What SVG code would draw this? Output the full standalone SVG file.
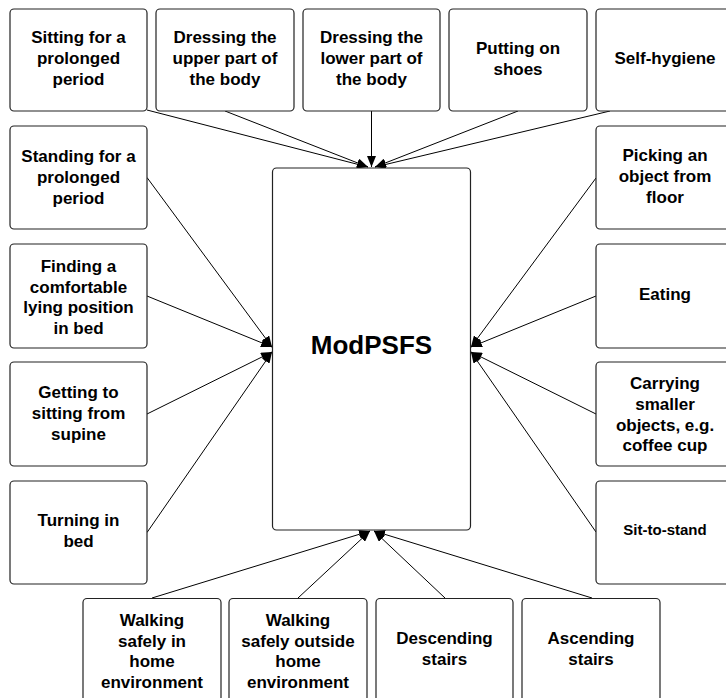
<svg xmlns="http://www.w3.org/2000/svg" width="726" height="698" viewBox="0 0 726 698">
<style>
.box{fill:#fff;stroke:#222;stroke-width:1.2}
.t{font-family:"Liberation Sans",Arial,sans-serif;font-weight:bold;font-size:17px;fill:#000;text-anchor:middle}
.s{font-size:15px}
.big{font-size:26px}
.c{stroke:#000;stroke-width:1;fill:none;marker-end:url(#ah)}
</style>
<defs>
<marker id="ah" markerUnits="userSpaceOnUse" markerWidth="11" markerHeight="9" refX="11" refY="4.5" orient="auto" viewBox="0 0 11 9">
<path d="M0,0 L11,4.5 L0,9 z" fill="#000"/>
</marker>
</defs>
<rect width="726" height="698" fill="#fff"/>
<g id="connectors">
<line class="c" x1="147" y1="110" x2="368" y2="167"/>
<line class="c" x1="225" y1="111" x2="368" y2="167"/>
<line class="c" x1="371.5" y1="111" x2="371.5" y2="167"/>
<line class="c" x1="518" y1="111" x2="375" y2="167"/>
<line class="c" x1="610" y1="111" x2="375" y2="167"/>
<line class="c" x1="147" y1="177.5" x2="272" y2="347"/>
<line class="c" x1="147" y1="296" x2="272" y2="347"/>
<line class="c" x1="147" y1="414" x2="272" y2="352"/>
<line class="c" x1="147" y1="532.5" x2="272" y2="352"/>
<line class="c" x1="596" y1="178" x2="471" y2="347"/>
<line class="c" x1="596" y1="296" x2="471" y2="347"/>
<line class="c" x1="596" y1="414" x2="471" y2="352"/>
<line class="c" x1="596" y1="532" x2="471" y2="352"/>
<line class="c" x1="152" y1="598" x2="370" y2="531"/>
<line class="c" x1="298" y1="598" x2="370" y2="531"/>
<line class="c" x1="445" y1="598" x2="374" y2="531"/>
<line class="c" x1="592" y1="598" x2="374" y2="531"/>
</g>
<g id="center">
<rect class="box" x="272.5" y="168" width="198" height="362" rx="4"/>
<text class="t big" x="371.5" y="354">ModPSFS</text>
</g>
<g id="sitting">
<rect class="box" x="10" y="9" width="137" height="102" rx="4"/>
<text class="t" x="78.5" y="43">Sitting for a</text>
<text class="t" x="78.5" y="64">prolonged</text>
<text class="t" x="78.5" y="85">period</text>
</g>
<g id="dress-upper">
<rect class="box" x="156" y="9" width="138" height="102" rx="4"/>
<text class="t" x="225" y="43">Dressing the</text>
<text class="t" x="225" y="64">upper part of</text>
<text class="t" x="225" y="85">the body</text>
</g>
<g id="dress-lower">
<rect class="box" x="303" y="9" width="137" height="102" rx="4"/>
<text class="t" x="371.5" y="43">Dressing the</text>
<text class="t" x="371.5" y="64">lower part of</text>
<text class="t" x="371.5" y="85">the body</text>
</g>
<g id="shoes">
<rect class="box" x="449" y="9" width="138" height="102" rx="4"/>
<text class="t" x="518" y="54">Putting on</text>
<text class="t" x="518" y="75">shoes</text>
</g>
<g id="hygiene">
<rect class="box" x="596" y="9" width="138" height="102" rx="4"/>
<text class="t" x="665" y="64">Self-hygiene</text>
</g>
<g id="standing">
<rect class="box" x="10" y="126" width="137" height="103" rx="4"/>
<text class="t" x="78.5" y="162">Standing for a</text>
<text class="t" x="78.5" y="183">prolonged</text>
<text class="t" x="78.5" y="204">period</text>
</g>
<g id="lying">
<rect class="box" x="10" y="244" width="137" height="104" rx="4"/>
<text class="t" x="78.5" y="272">Finding a</text>
<text class="t" x="78.5" y="292.5">comfortable</text>
<text class="t" x="78.5" y="313">lying position</text>
<text class="t" x="78.5" y="333.5">in bed</text>
</g>
<g id="supine">
<rect class="box" x="10" y="362" width="137" height="104" rx="4"/>
<text class="t" x="78.5" y="398">Getting to</text>
<text class="t" x="78.5" y="419">sitting from</text>
<text class="t" x="78.5" y="440">supine</text>
</g>
<g id="turning">
<rect class="box" x="10" y="481" width="137" height="103" rx="4"/>
<text class="t" x="78.5" y="526">Turning in</text>
<text class="t" x="78.5" y="547">bed</text>
</g>
<g id="picking">
<rect class="box" x="596" y="126" width="138" height="103" rx="4"/>
<text class="t" x="665" y="161">Picking an</text>
<text class="t" x="665" y="182">object from</text>
<text class="t" x="665" y="203">floor</text>
</g>
<g id="eating">
<rect class="box" x="596" y="244" width="138" height="104" rx="4"/>
<text class="t" x="665" y="300">Eating</text>
</g>
<g id="carrying">
<rect class="box" x="596" y="362" width="138" height="104" rx="4"/>
<text class="t" x="665" y="389">Carrying</text>
<text class="t" x="665" y="410">smaller</text>
<text class="t" x="665" y="431">objects, e.g.</text>
<text class="t" x="665" y="451">coffee cup</text>
</g>
<g id="sitstand">
<rect class="box" x="596" y="481" width="138" height="103" rx="4"/>
<text class="t s" x="665" y="534.5">Sit-to-stand</text>
</g>
<g id="walk-in">
<rect class="box" x="83" y="598.5" width="138" height="103" rx="4"/>
<text class="t" x="152" y="626">Walking</text>
<text class="t" x="152" y="646.5">safely in</text>
<text class="t" x="152" y="667">home</text>
<text class="t" x="152" y="688">environment</text>
</g>
<g id="walk-out">
<rect class="box" x="229" y="598.5" width="138" height="103" rx="4"/>
<text class="t" x="298" y="626">Walking</text>
<text class="t" x="298" y="646.5">safely outside</text>
<text class="t" x="298" y="667">home</text>
<text class="t" x="298" y="688">environment</text>
</g>
<g id="descending">
<rect class="box" x="376" y="598.5" width="137" height="103" rx="4"/>
<text class="t" x="444.5" y="644">Descending</text>
<text class="t" x="444.5" y="664.5">stairs</text>
</g>
<g id="ascending">
<rect class="box" x="522" y="598.5" width="138" height="103" rx="4"/>
<text class="t" x="591" y="644">Ascending</text>
<text class="t" x="591" y="664.5">stairs</text>
</g>
</svg>
